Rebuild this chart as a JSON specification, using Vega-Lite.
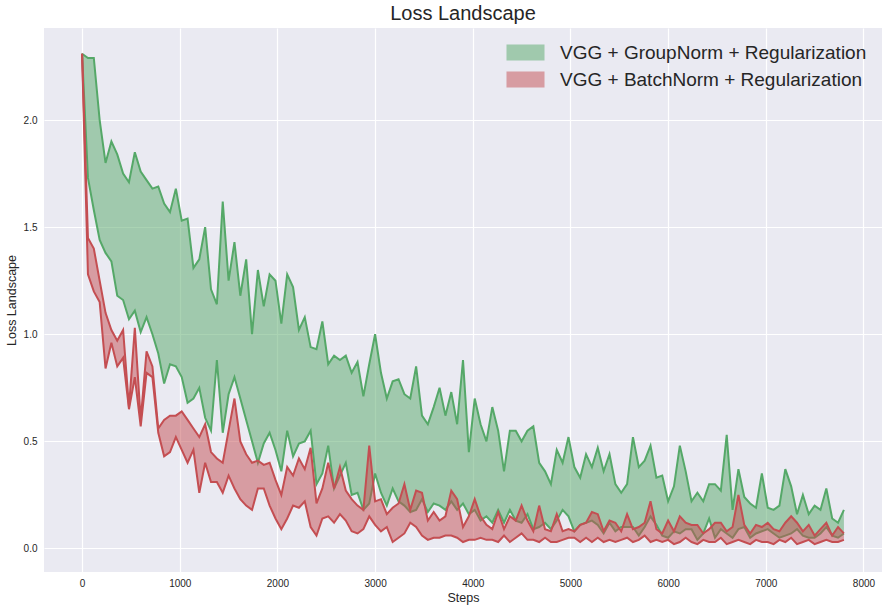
{
  "$schema": "https://vega.github.io/schema/vega-lite/v6.json",
  "width": 838,
  "height": 544,
  "autosize": {"type": "none"},
  "padding": {"left": 44, "top": 28, "right": 6, "bottom": 40},
  "background": "white",
  "title": {
    "text": "Loss Landscape",
    "fontSize": 20,
    "font": "Liberation Sans",
    "fontWeight": "normal",
    "color": "#262626",
    "offset": 4,
    "anchor": "middle"
  },
  "config": {
    "view": {"fill": "#EAEAF2", "stroke": null},
    "axis": {
      "grid": true,
      "gridColor": "white",
      "gridWidth": 1.2,
      "domain": false,
      "ticks": false,
      "labelFont": "Liberation Sans",
      "labelFontSize": 10,
      "labelColor": "#262626",
      "titleFont": "Liberation Sans",
      "titleFontSize": 12.5,
      "titleFontWeight": "normal",
      "titleColor": "#262626"
    },
    "legend": {
      "orient": "none",
      "legendX": 471.5,
      "legendY": 14.5,
      "padding": 0,
      "labelFont": "Liberation Sans",
      "labelFontSize": 19,
      "labelColor": "#262626",
      "labelLimit": 0,
      "labelOffset": 24.5,
      "rowPadding": 7,
      "symbolType": "M-2,-0.84H2V0.84H-2Z",
      "symbolSize": 361,
      "symbolOpacity": 0.5,
      "symbolStrokeWidth": 0.8
    }
  },
  "datasets": {
    "group": [
      {"step": 0, "upper": 2.31, "lower": 2.31},
      {"step": 60, "upper": 2.29, "lower": 1.73},
      {"step": 120, "upper": 2.29, "lower": 1.58},
      {"step": 180, "upper": 2.0, "lower": 1.44},
      {"step": 240, "upper": 1.8, "lower": 1.38},
      {"step": 300, "upper": 1.9, "lower": 1.34},
      {"step": 360, "upper": 1.84, "lower": 1.18},
      {"step": 420, "upper": 1.75, "lower": 1.16},
      {"step": 480, "upper": 1.71, "lower": 1.07},
      {"step": 540, "upper": 1.85, "lower": 1.11},
      {"step": 600, "upper": 1.76, "lower": 1.01},
      {"step": 660, "upper": 1.72, "lower": 1.08},
      {"step": 720, "upper": 1.68, "lower": 1.0},
      {"step": 780, "upper": 1.69, "lower": 0.91},
      {"step": 840, "upper": 1.61, "lower": 0.77},
      {"step": 900, "upper": 1.57, "lower": 0.86},
      {"step": 960, "upper": 1.68, "lower": 0.85},
      {"step": 1020, "upper": 1.53, "lower": 0.8},
      {"step": 1080, "upper": 1.54, "lower": 0.68},
      {"step": 1140, "upper": 1.31, "lower": 0.7},
      {"step": 1200, "upper": 1.35, "lower": 0.75},
      {"step": 1260, "upper": 1.5, "lower": 0.61},
      {"step": 1320, "upper": 1.21, "lower": 0.55},
      {"step": 1380, "upper": 1.14, "lower": 0.88},
      {"step": 1440, "upper": 1.62, "lower": 0.54},
      {"step": 1500, "upper": 1.25, "lower": 0.72},
      {"step": 1560, "upper": 1.43, "lower": 0.8},
      {"step": 1620, "upper": 1.18, "lower": 0.7},
      {"step": 1680, "upper": 1.35, "lower": 0.6},
      {"step": 1740, "upper": 1.0, "lower": 0.5},
      {"step": 1800, "upper": 1.3, "lower": 0.4},
      {"step": 1860, "upper": 1.13, "lower": 0.49},
      {"step": 1920, "upper": 1.28, "lower": 0.54},
      {"step": 1980, "upper": 1.25, "lower": 0.46},
      {"step": 2040, "upper": 1.05, "lower": 0.36},
      {"step": 2100, "upper": 1.28, "lower": 0.55},
      {"step": 2160, "upper": 1.22, "lower": 0.43},
      {"step": 2220, "upper": 1.02, "lower": 0.49},
      {"step": 2280, "upper": 1.08, "lower": 0.5},
      {"step": 2340, "upper": 0.94, "lower": 0.55},
      {"step": 2400, "upper": 0.93, "lower": 0.3},
      {"step": 2460, "upper": 1.06, "lower": 0.35},
      {"step": 2520, "upper": 0.86, "lower": 0.48},
      {"step": 2580, "upper": 0.9, "lower": 0.28},
      {"step": 2640, "upper": 0.88, "lower": 0.34},
      {"step": 2700, "upper": 0.9, "lower": 0.4},
      {"step": 2760, "upper": 0.82, "lower": 0.25},
      {"step": 2820, "upper": 0.87, "lower": 0.26},
      {"step": 2880, "upper": 0.71, "lower": 0.18},
      {"step": 2940, "upper": 0.86, "lower": 0.21},
      {"step": 3000, "upper": 1.0, "lower": 0.35},
      {"step": 3060, "upper": 0.82, "lower": 0.26},
      {"step": 3120, "upper": 0.7, "lower": 0.2},
      {"step": 3180, "upper": 0.78, "lower": 0.28},
      {"step": 3240, "upper": 0.79, "lower": 0.22},
      {"step": 3300, "upper": 0.72, "lower": 0.2},
      {"step": 3360, "upper": 0.7, "lower": 0.17},
      {"step": 3420, "upper": 0.85, "lower": 0.18},
      {"step": 3480, "upper": 0.62, "lower": 0.23},
      {"step": 3540, "upper": 0.58, "lower": 0.17},
      {"step": 3600, "upper": 0.66, "lower": 0.21},
      {"step": 3660, "upper": 0.75, "lower": 0.2},
      {"step": 3720, "upper": 0.62, "lower": 0.18},
      {"step": 3780, "upper": 0.73, "lower": 0.22},
      {"step": 3840, "upper": 0.58, "lower": 0.18},
      {"step": 3900, "upper": 0.88, "lower": 0.21},
      {"step": 3960, "upper": 0.45, "lower": 0.16},
      {"step": 4020, "upper": 0.7, "lower": 0.18},
      {"step": 4080, "upper": 0.58, "lower": 0.13},
      {"step": 4140, "upper": 0.5, "lower": 0.15},
      {"step": 4200, "upper": 0.66, "lower": 0.12},
      {"step": 4260, "upper": 0.55, "lower": 0.18},
      {"step": 4320, "upper": 0.36, "lower": 0.12},
      {"step": 4380, "upper": 0.55, "lower": 0.18},
      {"step": 4440, "upper": 0.55, "lower": 0.13},
      {"step": 4500, "upper": 0.5, "lower": 0.12},
      {"step": 4560, "upper": 0.55, "lower": 0.16},
      {"step": 4620, "upper": 0.57, "lower": 0.09},
      {"step": 4680, "upper": 0.4, "lower": 0.1},
      {"step": 4740, "upper": 0.36, "lower": 0.12},
      {"step": 4800, "upper": 0.3, "lower": 0.09},
      {"step": 4860, "upper": 0.46, "lower": 0.13},
      {"step": 4920, "upper": 0.4, "lower": 0.18},
      {"step": 4980, "upper": 0.52, "lower": 0.15},
      {"step": 5040, "upper": 0.38, "lower": 0.08},
      {"step": 5100, "upper": 0.33, "lower": 0.11},
      {"step": 5160, "upper": 0.44, "lower": 0.12},
      {"step": 5220, "upper": 0.38, "lower": 0.13},
      {"step": 5280, "upper": 0.47, "lower": 0.11},
      {"step": 5340, "upper": 0.36, "lower": 0.07},
      {"step": 5400, "upper": 0.44, "lower": 0.12},
      {"step": 5460, "upper": 0.3, "lower": 0.08},
      {"step": 5520, "upper": 0.26, "lower": 0.1},
      {"step": 5580, "upper": 0.3, "lower": 0.1},
      {"step": 5640, "upper": 0.52, "lower": 0.1},
      {"step": 5700, "upper": 0.38, "lower": 0.06},
      {"step": 5760, "upper": 0.41, "lower": 0.1},
      {"step": 5820, "upper": 0.48, "lower": 0.15},
      {"step": 5880, "upper": 0.33, "lower": 0.11},
      {"step": 5940, "upper": 0.34, "lower": 0.06},
      {"step": 6000, "upper": 0.22, "lower": 0.05},
      {"step": 6060, "upper": 0.29, "lower": 0.08},
      {"step": 6120, "upper": 0.48, "lower": 0.07},
      {"step": 6180, "upper": 0.36, "lower": 0.09},
      {"step": 6240, "upper": 0.22, "lower": 0.09},
      {"step": 6300, "upper": 0.26, "lower": 0.04},
      {"step": 6360, "upper": 0.22, "lower": 0.07},
      {"step": 6420, "upper": 0.3, "lower": 0.14},
      {"step": 6480, "upper": 0.3, "lower": 0.05},
      {"step": 6540, "upper": 0.27, "lower": 0.09},
      {"step": 6600, "upper": 0.53, "lower": 0.07},
      {"step": 6660, "upper": 0.18, "lower": 0.05},
      {"step": 6720, "upper": 0.37, "lower": 0.09},
      {"step": 6780, "upper": 0.24, "lower": 0.1},
      {"step": 6840, "upper": 0.21, "lower": 0.05},
      {"step": 6900, "upper": 0.19, "lower": 0.07},
      {"step": 6960, "upper": 0.35, "lower": 0.08},
      {"step": 7020, "upper": 0.19, "lower": 0.09},
      {"step": 7080, "upper": 0.18, "lower": 0.07},
      {"step": 7140, "upper": 0.2, "lower": 0.05},
      {"step": 7200, "upper": 0.37, "lower": 0.06},
      {"step": 7260, "upper": 0.29, "lower": 0.07},
      {"step": 7320, "upper": 0.16, "lower": 0.09},
      {"step": 7380, "upper": 0.25, "lower": 0.06},
      {"step": 7440, "upper": 0.16, "lower": 0.05},
      {"step": 7500, "upper": 0.2, "lower": 0.05},
      {"step": 7560, "upper": 0.18, "lower": 0.07},
      {"step": 7620, "upper": 0.28, "lower": 0.1},
      {"step": 7680, "upper": 0.14, "lower": 0.06},
      {"step": 7740, "upper": 0.12, "lower": 0.05},
      {"step": 7800, "upper": 0.18, "lower": 0.07}
    ],
    "batch": [
      {"step": 0, "upper": 2.31, "lower": 2.31},
      {"step": 60, "upper": 1.45, "lower": 1.28},
      {"step": 120, "upper": 1.4, "lower": 1.2},
      {"step": 180, "upper": 1.25, "lower": 1.15},
      {"step": 240, "upper": 1.1, "lower": 0.84},
      {"step": 300, "upper": 1.02, "lower": 0.96},
      {"step": 360, "upper": 0.97, "lower": 0.85},
      {"step": 420, "upper": 1.02, "lower": 0.89},
      {"step": 480, "upper": 0.66, "lower": 0.65},
      {"step": 540, "upper": 1.03, "lower": 0.8},
      {"step": 600, "upper": 0.6, "lower": 0.57},
      {"step": 660, "upper": 0.92, "lower": 0.82},
      {"step": 720, "upper": 0.85, "lower": 0.8},
      {"step": 780, "upper": 0.56, "lower": 0.54},
      {"step": 840, "upper": 0.6, "lower": 0.43},
      {"step": 900, "upper": 0.62, "lower": 0.45},
      {"step": 960, "upper": 0.62, "lower": 0.52},
      {"step": 1020, "upper": 0.64, "lower": 0.46},
      {"step": 1080, "upper": 0.6, "lower": 0.4},
      {"step": 1140, "upper": 0.56, "lower": 0.46},
      {"step": 1200, "upper": 0.52, "lower": 0.26},
      {"step": 1260, "upper": 0.58, "lower": 0.4},
      {"step": 1320, "upper": 0.45, "lower": 0.31},
      {"step": 1380, "upper": 0.42, "lower": 0.31},
      {"step": 1440, "upper": 0.4, "lower": 0.26},
      {"step": 1500, "upper": 0.55, "lower": 0.34},
      {"step": 1560, "upper": 0.7, "lower": 0.28},
      {"step": 1620, "upper": 0.5, "lower": 0.23},
      {"step": 1680, "upper": 0.44, "lower": 0.2},
      {"step": 1740, "upper": 0.4, "lower": 0.18},
      {"step": 1800, "upper": 0.41, "lower": 0.28},
      {"step": 1860, "upper": 0.39, "lower": 0.28},
      {"step": 1920, "upper": 0.4, "lower": 0.2},
      {"step": 1980, "upper": 0.32, "lower": 0.14},
      {"step": 2040, "upper": 0.25, "lower": 0.09},
      {"step": 2100, "upper": 0.38, "lower": 0.14},
      {"step": 2160, "upper": 0.34, "lower": 0.2},
      {"step": 2220, "upper": 0.42, "lower": 0.19},
      {"step": 2280, "upper": 0.37, "lower": 0.22},
      {"step": 2340, "upper": 0.47, "lower": 0.1},
      {"step": 2400, "upper": 0.21, "lower": 0.06},
      {"step": 2460, "upper": 0.28, "lower": 0.14},
      {"step": 2520, "upper": 0.4, "lower": 0.15},
      {"step": 2580, "upper": 0.28, "lower": 0.12},
      {"step": 2640, "upper": 0.38, "lower": 0.16},
      {"step": 2700, "upper": 0.27, "lower": 0.13},
      {"step": 2760, "upper": 0.23, "lower": 0.08},
      {"step": 2820, "upper": 0.2, "lower": 0.07},
      {"step": 2880, "upper": 0.18, "lower": 0.09},
      {"step": 2940, "upper": 0.48, "lower": 0.15},
      {"step": 3000, "upper": 0.22, "lower": 0.11},
      {"step": 3060, "upper": 0.23, "lower": 0.08},
      {"step": 3120, "upper": 0.16, "lower": 0.1},
      {"step": 3180, "upper": 0.19, "lower": 0.03},
      {"step": 3240, "upper": 0.21, "lower": 0.05},
      {"step": 3300, "upper": 0.3, "lower": 0.07},
      {"step": 3360, "upper": 0.18, "lower": 0.12},
      {"step": 3420, "upper": 0.27, "lower": 0.1},
      {"step": 3480, "upper": 0.26, "lower": 0.06},
      {"step": 3540, "upper": 0.13, "lower": 0.04},
      {"step": 3600, "upper": 0.17, "lower": 0.05},
      {"step": 3660, "upper": 0.13, "lower": 0.05},
      {"step": 3720, "upper": 0.15, "lower": 0.06},
      {"step": 3780, "upper": 0.27, "lower": 0.06},
      {"step": 3840, "upper": 0.23, "lower": 0.05},
      {"step": 3900, "upper": 0.1, "lower": 0.03},
      {"step": 3960, "upper": 0.15, "lower": 0.04},
      {"step": 4020, "upper": 0.23, "lower": 0.04},
      {"step": 4080, "upper": 0.15, "lower": 0.05},
      {"step": 4140, "upper": 0.11, "lower": 0.04},
      {"step": 4200, "upper": 0.09, "lower": 0.04},
      {"step": 4260, "upper": 0.17, "lower": 0.03},
      {"step": 4320, "upper": 0.09, "lower": 0.06},
      {"step": 4380, "upper": 0.15, "lower": 0.03},
      {"step": 4440, "upper": 0.13, "lower": 0.05},
      {"step": 4500, "upper": 0.2, "lower": 0.07},
      {"step": 4560, "upper": 0.13, "lower": 0.04},
      {"step": 4620, "upper": 0.08, "lower": 0.04},
      {"step": 4680, "upper": 0.2, "lower": 0.03},
      {"step": 4740, "upper": 0.09, "lower": 0.05},
      {"step": 4800, "upper": 0.08, "lower": 0.03},
      {"step": 4860, "upper": 0.16, "lower": 0.03},
      {"step": 4920, "upper": 0.08, "lower": 0.04},
      {"step": 4980, "upper": 0.09, "lower": 0.05},
      {"step": 5040, "upper": 0.08, "lower": 0.05},
      {"step": 5100, "upper": 0.11, "lower": 0.03},
      {"step": 5160, "upper": 0.12, "lower": 0.05},
      {"step": 5220, "upper": 0.17, "lower": 0.03},
      {"step": 5280, "upper": 0.16, "lower": 0.05},
      {"step": 5340, "upper": 0.08, "lower": 0.03},
      {"step": 5400, "upper": 0.13, "lower": 0.04},
      {"step": 5460, "upper": 0.12, "lower": 0.03},
      {"step": 5520, "upper": 0.08, "lower": 0.04},
      {"step": 5580, "upper": 0.16, "lower": 0.05},
      {"step": 5640, "upper": 0.09, "lower": 0.03},
      {"step": 5700, "upper": 0.1, "lower": 0.04},
      {"step": 5760, "upper": 0.12, "lower": 0.06},
      {"step": 5820, "upper": 0.22, "lower": 0.03},
      {"step": 5880, "upper": 0.09, "lower": 0.04},
      {"step": 5940, "upper": 0.07, "lower": 0.03},
      {"step": 6000, "upper": 0.13, "lower": 0.04},
      {"step": 6060, "upper": 0.08, "lower": 0.02},
      {"step": 6120, "upper": 0.15, "lower": 0.03},
      {"step": 6180, "upper": 0.12, "lower": 0.05},
      {"step": 6240, "upper": 0.11, "lower": 0.03},
      {"step": 6300, "upper": 0.11, "lower": 0.02},
      {"step": 6360, "upper": 0.07, "lower": 0.04},
      {"step": 6420, "upper": 0.09, "lower": 0.03},
      {"step": 6480, "upper": 0.12, "lower": 0.03},
      {"step": 6540, "upper": 0.12, "lower": 0.05},
      {"step": 6600, "upper": 0.08, "lower": 0.02},
      {"step": 6660, "upper": 0.1, "lower": 0.03},
      {"step": 6720, "upper": 0.25, "lower": 0.04},
      {"step": 6780, "upper": 0.11, "lower": 0.03},
      {"step": 6840, "upper": 0.07, "lower": 0.02},
      {"step": 6900, "upper": 0.11, "lower": 0.04},
      {"step": 6960, "upper": 0.1, "lower": 0.03},
      {"step": 7020, "upper": 0.12, "lower": 0.03},
      {"step": 7080, "upper": 0.09, "lower": 0.02},
      {"step": 7140, "upper": 0.08, "lower": 0.04},
      {"step": 7200, "upper": 0.12, "lower": 0.03},
      {"step": 7260, "upper": 0.15, "lower": 0.05},
      {"step": 7320, "upper": 0.12, "lower": 0.02},
      {"step": 7380, "upper": 0.08, "lower": 0.03},
      {"step": 7440, "upper": 0.11, "lower": 0.04},
      {"step": 7500, "upper": 0.06, "lower": 0.02},
      {"step": 7560, "upper": 0.09, "lower": 0.03},
      {"step": 7620, "upper": 0.12, "lower": 0.04},
      {"step": 7680, "upper": 0.06, "lower": 0.03},
      {"step": 7740, "upper": 0.1, "lower": 0.03},
      {"step": 7800, "upper": 0.07, "lower": 0.04}
    ]
  },
  "encoding": {
    "x": {
      "field": "step",
      "type": "quantitative",
      "title": "Steps",
      "scale": {"domain": [-390, 8190], "nice": false, "zero": false},
      "axis": {
        "values": [0, 1000, 2000, 3000, 4000, 5000, 6000, 7000, 8000],
        "format": "d",
        "labelPadding": 6,
        "titlePadding": 3
      }
    }
  },
  "layer": [
    {
      "data": {"name": "group"},
      "mark": {"type": "area", "fillOpacity": 0.5, "strokeWidth": 0},
      "encoding": {
        "y": {
          "field": "upper",
          "type": "quantitative",
          "title": "Loss Landscape",
          "scale": {"domain": [-0.11, 2.43], "nice": false, "zero": false},
          "axis": {"values": [0, 0.5, 1, 1.5, 2], "format": ".1f", "labelPadding": 7, "titlePadding": 5}
        },
        "y2": {"field": "lower"},
        "color": {
          "datum": "VGG + GroupNorm + Regularization",
          "scale": {
            "domain": ["VGG + GroupNorm + Regularization", "VGG + BatchNorm + Regularization"],
            "range": ["#55A868", "#C44E52"]
          },
          "legend": {"title": null}
        }
      }
    },
    {
      "data": {"name": "group"},
      "mark": {"type": "line", "color": "#55A868", "strokeWidth": 2},
      "encoding": {
        "y": {
          "field": "upper",
          "type": "quantitative",
          "title": "Loss Landscape",
          "scale": {"domain": [-0.11, 2.43], "nice": false, "zero": false},
          "axis": {"values": [0, 0.5, 1, 1.5, 2], "format": ".1f", "labelPadding": 7, "titlePadding": 5}
        }
      }
    },
    {
      "data": {"name": "group"},
      "mark": {"type": "line", "color": "#55A868", "strokeWidth": 2},
      "encoding": {
        "y": {
          "field": "lower",
          "type": "quantitative",
          "title": "Loss Landscape",
          "scale": {"domain": [-0.11, 2.43], "nice": false, "zero": false},
          "axis": {"values": [0, 0.5, 1, 1.5, 2], "format": ".1f", "labelPadding": 7, "titlePadding": 5}
        }
      }
    },
    {
      "data": {"name": "batch"},
      "mark": {"type": "area", "fillOpacity": 0.5, "strokeWidth": 0},
      "encoding": {
        "y": {
          "field": "upper",
          "type": "quantitative",
          "title": "Loss Landscape",
          "scale": {"domain": [-0.11, 2.43], "nice": false, "zero": false},
          "axis": {"values": [0, 0.5, 1, 1.5, 2], "format": ".1f", "labelPadding": 7, "titlePadding": 5}
        },
        "y2": {"field": "lower"},
        "color": {
          "datum": "VGG + BatchNorm + Regularization",
          "scale": {
            "domain": ["VGG + GroupNorm + Regularization", "VGG + BatchNorm + Regularization"],
            "range": ["#55A868", "#C44E52"]
          },
          "legend": {"title": null}
        }
      }
    },
    {
      "data": {"name": "batch"},
      "mark": {"type": "line", "color": "#C44E52", "strokeWidth": 2},
      "encoding": {
        "y": {
          "field": "upper",
          "type": "quantitative",
          "title": "Loss Landscape",
          "scale": {"domain": [-0.11, 2.43], "nice": false, "zero": false},
          "axis": {"values": [0, 0.5, 1, 1.5, 2], "format": ".1f", "labelPadding": 7, "titlePadding": 5}
        }
      }
    },
    {
      "data": {"name": "batch"},
      "mark": {"type": "line", "color": "#C44E52", "strokeWidth": 2},
      "encoding": {
        "y": {
          "field": "lower",
          "type": "quantitative",
          "title": "Loss Landscape",
          "scale": {"domain": [-0.11, 2.43], "nice": false, "zero": false},
          "axis": {"values": [0, 0.5, 1, 1.5, 2], "format": ".1f", "labelPadding": 7, "titlePadding": 5}
        }
      }
    }
  ]
}
